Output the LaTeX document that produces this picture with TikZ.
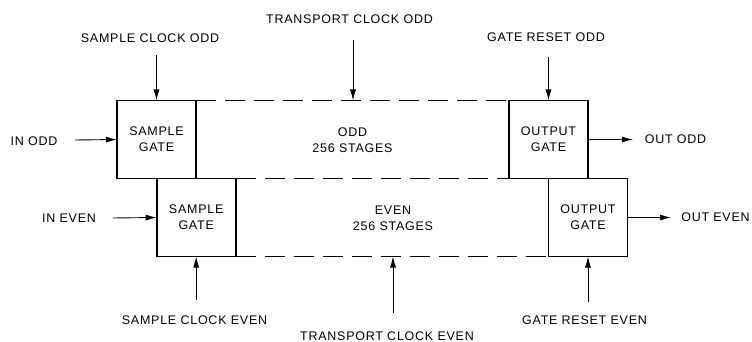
\documentclass[tikz,border=0pt]{standalone}
\usepackage{fontspec}
\setmainfont{Liberation Sans}[LetterSpace=6]
\usetikzlibrary{arrows.meta}
\begin{document}
\begin{tikzpicture}[x=1pt,y=-1pt,
  gatebox/.style={draw, line width=1.6pt, minimum width=79pt, minimum height=78pt,
    inner sep=0pt, outer sep=0pt, align=center, font=\fontsize{12.5}{16}\selectfont},
  lbl/.style={inner sep=0pt, align=center, font=\fontsize{12.5}{16}\selectfont},
  sig/.style={line width=0.9pt, -{Latex[length=11pt,width=6pt]}},
  bus/.style={line width=1.6pt, dash pattern=on 20pt off 9pt}]
\useasboundingbox (0,0) rectangle (752,342);

% gate boxes
\node[gatebox] (sgo) at (156.5,139.5) {SAMPLE\\GATE};
\node[gatebox] (sge) at (196.2,217.5) {SAMPLE\\GATE};
\node[gatebox] (ogo) at (548.5,139.5) {OUTPUT\\GATE};
\node[gatebox] (oge) at (588.0,217.5) {OUTPUT\\GATE};

% stage texts
\node[lbl] (odd) at (352.5,140) {ODD\\256 STAGES};
\node[lbl] (even) at (393,218.5) {EVEN\\256 STAGES};

% dashed register lines
\draw[bus] (sgo.north east) -- (ogo.north west);
\draw[bus] (sge.north east) -- (ogo.south west);
\draw[bus] (sge.south east) -- (oge.south west);

% labels
\node[lbl] (lsco) at (150,38) {SAMPLE CLOCK ODD};
\node[lbl] (ltco) at (349.5,19) {TRANSPORT CLOCK ODD};
\node[lbl] (lgro) at (546,37.5) {GATE RESET ODD};
\node[lbl] (lino) at (34,141) {IN ODD};
\node[lbl] (line) at (69,218) {IN EVEN};
\node[lbl] (louto) at (675.5,139) {OUT ODD};
\node[lbl] (loute) at (715.5,217) {OUT EVEN};
\node[lbl] (lsce) at (194.5,320) {SAMPLE CLOCK EVEN};
\node[lbl] (ltce) at (387,336) {TRANSPORT CLOCK EVEN};
\node[lbl] (lgre) at (584.5,320) {GATE RESET EVEN};

% arrow end points
\coordinate (scoS) at (156.5,55);
\coordinate (tcoS) at (353,40);
\coordinate (tcoE) at (353,100.5);
\coordinate (groS) at (548.5,57);
\coordinate (inoS) at (75,140);
\coordinate (ineS) at (113,218);
\coordinate (outoE) at (633,139.5);
\coordinate (outeE) at (671,217.5);
\coordinate (sceS) at (196.2,300);
\coordinate (tceS) at (393,313);
\coordinate (tceE) at (393,256.5);
\coordinate (greS) at (588,302);

% signal arrows
\draw[sig] (scoS) -- (sgo.north);
\draw[sig] (tcoS) -- (tcoE);
\draw[sig] (groS) -- (ogo.north);
\draw[sig] (inoS) -- (sgo.west);
\draw[sig] (ineS) -- (sge.west);
\draw[sig] (ogo.east) -- (outoE);
\draw[sig] (oge.east) -- (outeE);
\draw[sig] (sceS) -- (sge.south);
\draw[sig] (tceS) -- (tceE);
\draw[sig] (greS) -- (oge.south);
\end{tikzpicture}
\end{document}
